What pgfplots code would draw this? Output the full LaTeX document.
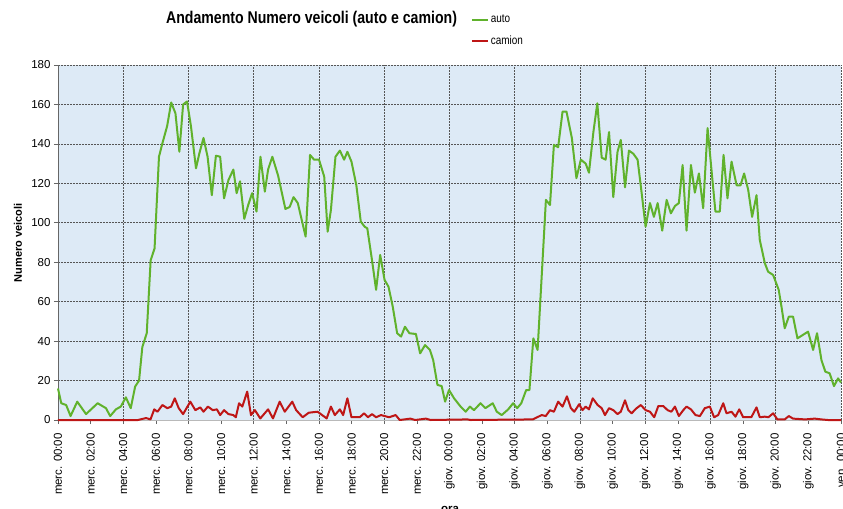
\documentclass[border=0pt]{standalone}
\usepackage{pgfplots}
\pgfplotsset{compat=1.18}
\usepackage{fontspec}
\setmainfont{Liberation Sans}
\newfontfamily\condfont{Liberation Sans}[FakeStretch=0.83]
\definecolor{bgblue}{RGB}{221,234,246}
\definecolor{autogreen}{RGB}{96,178,44}
\definecolor{camred}{RGB}{190,22,22}
\definecolor{gridgray}{RGB}{85,85,85}

\pgfplotstableread{
h v
0 16
0.2 8.5
0.5 7.6
0.77 2
1.18 9.3
1.72 3
2.43 8.5
2.94 6
3.2 2
3.55 5.4
3.85 6.8
4.16 11.5
4.46 6
4.73 17
4.97 20
5.17 37
5.44 44
5.68 81
5.92 87
6.19 133.5
6.39 140
6.69 149
6.94 161
7.2 155.5
7.44 136
7.67 160
7.91 161.5
8.15 149
8.46 127.6
8.66 135
8.92 143
9.17 133.5
9.43 114
9.68 134
9.94 133.5
10.18 112.4
10.45 121.7
10.75 127
10.95 115
11.16 121
11.42 102
11.66 109
11.9 115
12.17 105.7
12.41 133.5
12.68 115.8
12.88 127
13.14 133.5
13.49 124
13.94 107
14.2 108
14.44 113
14.7 110
15.18 93
15.45 134.4
15.7 132
16 132
16.32 123.4
16.53 95.5
16.73 106.5
17.01 133.5
17.28 136.6
17.54 132
17.74 136
17.99 131
18.29 119
18.56 100.6
18.8 98
18.96 97.2
19.25 81
19.5 66
19.75 83.7
20.02 71
20.26 67.6
20.52 57.5
20.79 44
21.03 42.3
21.27 47.3
21.54 44
21.94 43.6
22.2 33.8
22.5 38
22.8 35.5
23.0 30.4
23.26 17.8
23.52 17.2
23.73 9.3
23.97 15.2
24.28 11
24.68 6.8
24.99 4.2
25.25 6.8
25.5 5
25.9 8.5
26.2 6
26.65 8.5
26.9 4.2
27.2 2.5
27.6 5.4
27.9 8.5
28.15 6
28.4 8.5
28.7 15.2
28.9 15.2
29.14 41.4
29.4 35.5
29.65 72.7
29.91 111.6
30.16 109
30.4 139.5
30.66 138.3
30.93 156.4
31.17 156.4
31.5 143
31.78 122.6
32.05 132
32.35 130
32.55 125.4
32.82 146
33.06 160.6
33.33 133
33.57 132
33.78 146
34.04 113
34.3 136
34.5 142
34.76 118
35.0 136.6
35.27 135
35.53 132
35.78 115
36.02 98
36.29 110
36.53 103
36.76 110
37.04 96
37.31 111.6
37.57 104.8
37.82 108.5
38.06 110
38.29 129.3
38.53 96
38.8 129.3
39.04 115.3
39.29 125
39.55 107.4
39.82 148
40.06 126.8
40.3 105.7
40.57 105.7
40.8 134.4
41.04 112.4
41.29 131
41.6 119
41.84 119
42.06 125
42.31 116.7
42.55 103
42.82 114
43.02 91.3
43.33 79.5
43.53 75.2
43.84 73.5
44.18 66
44.35 57.5
44.55 46.5
44.8 52.4
45.06 52.4
45.33 41.4
45.98 44.8
46.29 35.5
46.53 44
46.8 30.4
47.04 24.5
47.3 23.7
47.57 17.2
47.82 21.1
48 19
}\autodata

\pgfplotstableread{
h v
0 0
4.9 0
5.4 1
5.67 0.3
5.9 5.4
6.1 4.2
6.4 7.6
6.7 6
6.94 6.8
7.16 11
7.4 6
7.67 3
8.11 9.3
8.42 5
8.72 6.4
8.92 4.2
9.19 6.8
9.49 5
9.74 5.4
9.94 2.5
10.18 5
10.45 3
10.75 2.5
10.9 1.4
11.1 8.5
11.3 6.8
11.6 14.4
11.83 2.5
12.07 5
12.4 0.8
12.88 5.4
13.18 0.8
13.59 9.3
13.9 4.2
14.36 9.3
14.6 5
15.0 1.4
15.37 3.7
15.9 4.2
16.0 3.7
16.47 0.8
16.73 6.8
16.97 2.5
17.28 5.4
17.48 2.5
17.74 11
17.99 1.4
18.5 1.4
18.76 3.4
19.0 1.4
19.25 3
19.5 1.4
19.8 2.5
20.3 1.4
20.7 2.5
20.95 0
21.6 0.7
21.9 0
22.55 0.7
22.85 0
25.1 0.3
25.3 0
29.1 0.3
29.65 2.5
29.9 2
30.16 5
30.4 4.2
30.66 9.3
30.93 6.8
31.2 12
31.44 6
31.65 4.2
31.95 8
32.15 5
32.35 6.8
32.55 5.4
32.78 11
33.08 7.6
33.33 6
33.53 2.5
33.78 6
34.04 5
34.3 3
34.5 4.2
34.76 10
34.96 5
35.16 3.4
35.47 6
35.73 7.6
36.02 5
36.29 4.2
36.55 1.4
36.8 7.1
37.1 7.1
37.37 5
37.6 4.2
37.82 6.8
38.06 2
38.33 5
38.53 6.8
38.8 5.4
39.08 2.5
39.35 2
39.65 6
39.96 6.8
40.22 1.4
40.47 2.5
40.78 8.5
40.98 3.4
41.29 4.2
41.53 1.7
41.76 5.4
42.0 1.4
42.5 1.4
42.82 6.4
43.02 1.4
43.33 1.7
43.55 1.4
43.84 3.4
44.1 0.3
44.55 0.3
44.8 2
45.06 0.7
45.8 0.3
46.39 0.7
46.8 0.3
47.2 0
48 0
}\camiondata

\begin{document}
\begin{tikzpicture}
\begin{axis}[
  scale only axis, width=783pt, height=355pt,
  xmin=0, xmax=48, ymin=0, ymax=180,
  clip=false,
  axis background/.style={fill=bgblue},
  axis x line*=bottom, axis y line*=left,
  x axis line style={draw=gray!55, line width=0.8pt},
  y axis line style={draw=gray!80!black, line width=0.8pt},
  xtick={0,2,...,48},
  xticklabels={merc. 00:00,merc. 02:00,merc. 04:00,merc. 06:00,merc. 08:00,merc. 10:00,merc. 12:00,merc. 14:00,merc. 16:00,merc. 18:00,merc. 20:00,merc. 22:00,giov. 00:00,giov. 02:00,giov. 04:00,giov. 06:00,giov. 08:00,giov. 10:00,giov. 12:00,giov. 14:00,giov. 16:00,giov. 18:00,giov. 20:00,giov. 22:00,ven. 00:00},
  minor xtick={4,8,...,48},
  xminorgrids=true, ymajorgrids=true, xmajorgrids=false,
  ytick={0,20,...,180},
  grid style={gridgray, dash pattern=on 2pt off 1pt, line width=0.6pt},
  minor grid style={gridgray, dash pattern=on 2pt off 1pt, line width=0.6pt},
  tick align=outside, major tick length=4pt, minor tick length=0pt,
  tick style={gray!80!black, line width=0.6pt},
  xticklabel style={rotate=90, anchor=east, font=\fontsize{11.5}{13}\selectfont, inner sep=2pt, xshift=-7pt},
  yticklabel style={font=\fontsize{11.5}{13}\selectfont},
  /pgf/number format/assume math mode=true,
  legend style={at={(rel axis cs:0.527,1.147)}, anchor=north west, draw=none, fill=none,
    font=\condfont\fontsize{12}{14}\selectfont, row sep=8pt, inner sep=0pt},
  legend cell align=left,
  legend image code/.code={\draw[#1, line width=2pt] (0pt,0pt) -- (16pt,0pt);},
]
\addplot[autogreen, line width=2pt, line join=round] table[x=h, y=v] {\autodata};
\addlegendentry{auto}
\addplot[camred, line width=2pt, line join=round] table[x=h, y=v] {\camiondata};
\addlegendentry{camion}
\node[anchor=base, font=\condfont\bfseries\fontsize{17}{20}\selectfont] at (rel axis cs:0.3238,1.1155) {Andamento Numero veicoli (auto e camion)};
\node[rotate=90, font=\bfseries\fontsize{11}{13}\selectfont] at (rel axis cs:-0.0511,0.4986) {Numero veicoli};
\node[anchor=base, font=\bfseries\fontsize{11.5}{13}\selectfont] at (rel axis cs:0.5006,-0.2610) {ora};
\coordinate (bbsw) at (rel axis cs:-0.07407,-0.24789);
\coordinate (bbne) at (rel axis cs:1.00255,1.18310);
\end{axis}
\pgfresetboundingbox
\path[use as bounding box] (bbsw) rectangle (bbne);
\end{tikzpicture}
\end{document}
